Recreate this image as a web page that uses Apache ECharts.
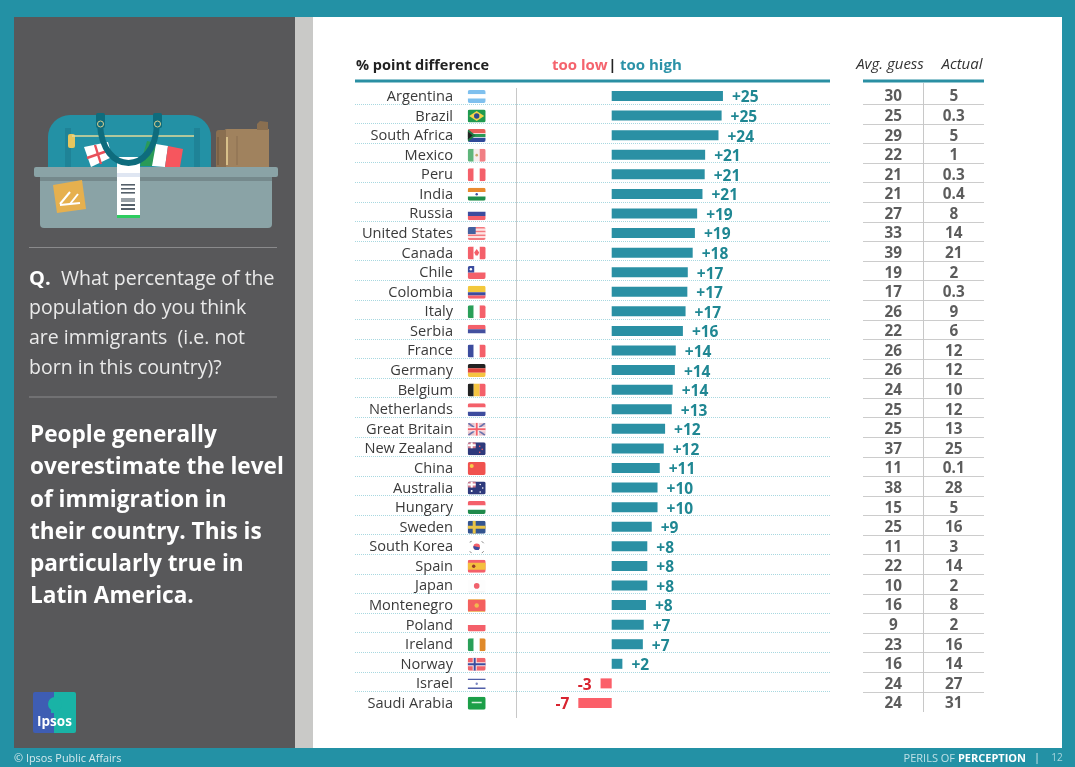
<!DOCTYPE html>
<html><head><meta charset="utf-8">
<style>html,body{margin:0;padding:0;background:#2391a5}#c{width:1075px;height:767px}</style>
<script src="https://cdn.jsdelivr.net/npm/echarts@6/dist/echarts.min.js"></script>
</head><body><div id="c"></div>
<script>
const countries = ['Argentina','Brazil','South Africa','Mexico','Peru','India','Russia','United States','Canada','Chile','Colombia','Italy','Serbia','France','Germany','Belgium','Netherlands','Great Britain','New Zealand','China','Australia','Hungary','Sweden','South Korea','Spain','Japan','Montenegro','Poland','Ireland','Norway','Israel','Saudi Arabia'];
const barLengths = [25,24.7,24,21,20.9,20.4,19.2,18.7,18.2,17.1,17,16.6,16,14.4,14.2,13.7,13.5,12,11.7,10.8,10.3,10.3,9,8,8,8,7.7,7.2,7,2.4,-2.5,-7.5];
const diffLabels = ['+25','+25','+24','+21','+21','+21','+19','+19','+18','+17','+17','+17','+16','+14','+14','+14','+13','+12','+12','+11','+10','+10','+9','+8','+8','+8','+8','+7','+7','+2','-3','-7'];
const avgGuess = [30,25,29,22,21,21,27,33,39,19,17,26,22,26,26,24,25,25,37,11,38,15,25,11,22,10,16,9,23,16,24,24];
const actual = ['5','0.3','5','1','0.3','0.4','8','14','21','2','0.3','9','6','12','12','10','12','13','25','0.1','28','5','16','3','14','2','8','2','16','14','27','31'];
const tableHeaders = ['Avg. guess','Actual'];

const FONT = '"Open Sans", sans-serif';
const TEAL = '#2391a5', BAR = '#2a90a4', RED = '#fb5f69', DARKTEAL = '#1f8793', DARKRED = '#d8232f';
const W = 18, H = 13;
const R='#f4606a', B='#3c4c9e', G='#2a9f58', K='#222222', O='#e98a2e', WH='#ffffff';
function hs(c){return c.map((col,i)=>['r',0,i*H/c.length,W,H/c.length,col]);}
function vs(c){return c.map((col,i)=>['r',i*W/c.length,0,W/c.length,H,col]);}
const FLAGS = {
 'Argentina':[...hs(['#7fc0ee',WH,'#7fc0ee'])],
 'Brazil':[['r',0,0,W,H,'#1f9a4f'],['p',[[9,1.5],[16.5,6.5],[9,11.5],[1.5,6.5]],'#f3d24a'],['c',9,6.5,2.7,'#2f4a8e']],
 'South Africa':[...hs(['#e8605a',WH,'#2f4a9a']),['r',0,5,W,3,'#2a9a55'],['p',[[0,0],[8,6.5],[0,13]],'#1f7a45'],['p',[[0,2.5],[5,6.5],[0,10.5]],'#222']],
 'Mexico':[...vs(['#5fb57a','#f6eeee','#f17f84']),['c',9,6.5,1.3,'#c8a86a']],
 'Peru':vs([R,WH,R]),
 'India':[...hs([O,WH,'#1f8f4a']),['c',9,6.5,1.2,'#3c4c9e']],
 'Russia':hs([WH,B,R]),
 'United States':[...hs(['#f47a80','#fde3e3','#f47a80','#fde3e3','#f47a80','#fde3e3','#f47a80']),['r',0,0,8,7,'#44619f']],
 'Canada':[...vs([R,WH,R]),['p',[[9,2.5],[11.5,6],[10,9],[8,9],[6.5,6]],R]],
 'Chile':[['r',0,0,W,6.5,WH],['r',0,6.5,W,6.5,R],['r',0,0,6.5,6.5,'#3c4c9e'],['c',3.2,3.2,1.2,WH]],
 'Colombia':[['r',0,0,W,6.5,'#f3c83c'],['r',0,6.5,W,3.2,'#3c4c9e'],['r',0,9.7,W,3.3,R]],
 'Italy':vs([G,WH,R]),
 'Serbia':hs([R,'#44509f',WH]),
 'France':vs(['#3c4c9e',WH,R]),
 'Germany':hs([K,'#e0473f','#f5c542']),
 'Belgium':vs([K,'#f5c542',R]),
 'Netherlands':hs([R,WH,B]),
 'Great Britain':[['r',0,0,W,H,'#e9c4cc'],['l',0,0,W,H,'#6a73ad',1.6],['l',W,0,0,H,'#6a73ad',1.6],['r',7,0,4,H,WH],['r',0,4.5,W,4,WH],['r',8,0,2,H,R],['r',0,5.5,W,2,R]],
 'New Zealand':[['r',0,0,W,H,'#2e3a7c'],['r',0,0,8,6,'#cf7b8d'],['r',3,0,2,6,WH],['r',0,2,8,2,WH],['c',12,4,.8,R],['c',14.5,7,.8,R],['c',12,10,.8,R]],
 'China':[['r',0,0,W,H,'#f0524f'],['c',4,4,2,'#f7cc4a']],
 'Australia':[['r',0,0,W,H,'#2e3a7c'],['r',0,0,8,6,'#cf7b8d'],['r',3,0,2,6,WH],['r',0,2,8,2,WH],['c',4,9.5,1,WH],['c',12.5,3,.8,WH],['c',15,6.5,.8,WH],['c',12.5,10.5,.8,WH]],
 'Hungary':hs([R,WH,'#1f8a4c']),
 'Sweden':[['r',0,0,W,H,'#33548f'],['r',5,0,3,H,'#e9c347'],['r',0,5,W,3,'#e9c347']],
 'South Korea':[['r',0,0,W,H,WH],['c',9,6.5,3.3,R],['s',9,6.5,3.3,'#3c4c9e'],['l',2,2,4,1,'#777',.9],['l',14,1,16,3,'#777',.9],['l',2,11,4,13,'#777',.9],['l',14,13,16,11,'#777',.9]],
 'Spain':[['r',0,0,W,H,R],['r',0,3,W,7,'#f4bf3e'],['c',6,6.5,1.7,'#933a2a']],
 'Japan':[['r',0,0,W,H,'#fdfdfd'],['r',0,12.4,W,.6,'#e5e5e5'],['c',9,6.5,2.8,'#f0616c']],
 'Montenegro':[['r',0,0,W,H,'#f4605f'],['r',0,0,W,1,'#f0bb72'],['r',0,12,W,1,'#f0bb72'],['c',9,6.5,2.2,'#f2b84f']],
 'Poland':[['r',0,0,W,6.5,WH],['r',0,6.5,W,6.5,R]],
 'Ireland':vs([G,WH,'#e08a2a']),
 'Norway':[['r',0,0,W,H,'#f0646c'],['r',5,0,4,H,'#fbe9ea'],['r',0,4.5,W,4,'#fbe9ea'],['r',6,0,2,H,'#3c4c9e'],['r',0,5.5,W,2,'#3c4c9e']],
 'Israel':[['r',0,0,W,H,WH],['r',0,1.4,W,1.4,'#505ea8'],['r',0,10.2,W,1.4,'#505ea8'],['c',9,6.5,1.2,'#7a86c0']],
 'Saudi Arabia':[['r',0,0,W,H,'#1c9f48'],['r',4,5,10,1.5,'#d7f0de']]
};
function flagChild(s){
 switch(s[0]){
  case 'r':return {type:'rect',shape:{x:s[1],y:s[2],width:s[3],height:s[4]},style:{fill:s[5]}};
  case 'c':return {type:'circle',shape:{cx:s[1],cy:s[2],r:s[3]},style:{fill:s[4]}};
  case 's':return {type:'sector',shape:{cx:s[1],cy:s[2],r:s[3],r0:0,startAngle:0.2,endAngle:Math.PI+0.2},style:{fill:s[4]}};
  case 'p':return {type:'polygon',shape:{points:s[1]},style:{fill:s[2]}};
  case 'l':return {type:'line',shape:{x1:s[1],y1:s[2],x2:s[3],y2:s[4]},style:{stroke:s[5],lineWidth:s[6]}};
 }
}
const rowH = 19.58, rowsH = rowH * countries.length;
function catAxis(grid, extra){
 return Object.assign({type:'category',gridIndex:grid,data:countries,inverse:true,axisLine:{show:false},axisTick:{show:false},axisLabel:{show:false},splitLine:{show:false}},extra||{});
}
function hiddenX(grid,min,max){return {type:'value',gridIndex:grid,min,max,show:false,splitLine:{show:false}};}
function T(text,x,y,size,color,extra){
 return {type:'text',z:1,style:Object.assign({text,x,y,fontSize:size,fill:color,fontFamily:FONT,textVerticalAlign:'middle',verticalAlign:'middle'},extra||{})};
}
function rect(x,y,w,h,fill,r,z){return {type:'rect',z:z||0,shape:{x,y,width:w,height:h,r:r||0},style:{fill}};}
function poly(pts,fill){return {type:'polygon',z:1,shape:{points:pts},style:{fill}};}
function ln(x1,y1,x2,y2,stroke,lw){return {type:'line',z:1,shape:{x1,y1,x2,y2},style:{stroke,lineWidth:lw}};}

const decor = [
 rect(313,17,749,731,'#ffffff'),
 rect(14,17,281,731,'#58585a'),
 rect(295,17,18,731,'#c9c9c7'),
 // bag illustration
 rect(48,115,163,52,'#2391a5',[22,22,0,0]),
 rect(65,128,6,39,'#1f8397'), rect(194,128,6,39,'#1f8397'),
 ln(72,136,194,136,'#e2da9a',1.6),
 rect(68,134,7,14,'#e6c65e',2),
 poly([[84,147],[108,142],[112,157],[91,167]],'#ffffff'),
 ln(87,158,110,150,'#e8505a',2.4), ln(95,145,101,164,'#e8505a',2.4),
 poly([[147,141],[156,143],[153,166],[140,166]],'#2a9a58'),
 poly([[156,144],[168,146],[165,167],[152,166]],'#ffffff'),
 poly([[168,146],[183,149],[180,167],[165,167]],'#f6565e'),
 {type:'bezierCurve',z:1,shape:{x1:100,y1:124,x2:157,y2:124,cpx1:102,cpy1:176,cpx2:155,cpy2:176},style:{stroke:'#0e6c7d',lineWidth:6,fill:'none'}},
 rect(96,113,9,15,'#0e6c7d',2), rect(153,113,9,15,'#0e6c7d',2),
 {type:'circle',z:1,shape:{cx:100.5,cy:124,r:3},style:{stroke:'#d8cf8e',lineWidth:1,fill:'none'}},
 {type:'circle',z:1,shape:{cx:157.5,cy:124,r:3},style:{stroke:'#d8cf8e',lineWidth:1,fill:'none'}},
 rect(224,129,45,38,'#a0825e',[3,0,0,0]), rect(216,130,10,37,'#8a6f50',[3,0,0,0]),
 poly([[257,124],[260,121],[268,122],[268,130],[257,130]],'#8a6f50'),
 ln(237,136,237,165,'#8a6f50',1),
 ln(227,137,227,165,'#d8c08a',2), ln(218,137,218,165,'#6b553c',1),
 rect(34,167,244,10,'#8aa3a6',2),
 rect(40,177,232,51,'#8aa3a6',[0,0,4,4]),
 rect(40,177,232,4,'#75898c'),
 poly([[53,185],[82,180],[86,209],[57,213]],'#e6b04e'),
 ln(60,204,70,192,'#fff',2), ln(70,204,78,194,'#fff',2), ln(60,205,80,203,'#fff',2),
 rect(117,157,23,59,'#ffffff'),
 rect(117,173,23,4,'#dfe6f2'),
 rect(121,184,14,1.6,'#55606a'),rect(121,188,14,1.6,'#55606a'),rect(121,192,14,1.6,'#55606a'),
 rect(121,198,14,4,'#9aa2a8'),rect(121,204,14,2,'#55606a'),rect(121,208,14,2,'#55606a'),
 rect(117,215,23,3,'#2ecc60'),
 ln(29,247.5,277,247.5,'#8a8a8c',1), ln(29,397,277,397,'#8a8a8c',1),
 // left texts
 T('Q.',29,279,20,'#ffffff',{fontWeight:'bold'}),
 T('What percentage of the',61,279,19.5,'#eaeaea'),
 T('population do you think',29,308,19.5,'#eaeaea'),
 T('are immigrants  (i.e. not',29,338,19.5,'#eaeaea'),
 T('born in this country)?',29,368,19.5,'#eaeaea'),
 T('People generally',30,436,22.6,'#ffffff',{fontWeight:'bold'}),
 T('overestimate the level',30,468,22.6,'#ffffff',{fontWeight:'bold'}),
 T('of immigration in',30,501,22.6,'#ffffff',{fontWeight:'bold'}),
 T('their country. This is',30,533,22.6,'#ffffff',{fontWeight:'bold'}),
 T('particularly true in',30,565,22.6,'#ffffff',{fontWeight:'bold'}),
 T('Latin America.',30,597,22.6,'#ffffff',{fontWeight:'bold'}),
 // logo
 rect(33,692,22,41,'#3e5db3',[2,0,0,2]),
 rect(54,692,22,41,'#19b3a6',[0,2,2,0]),
 {type:'circle',z:1,shape:{cx:55,cy:704,r:7},style:{fill:'#19b3a6'}},
 rect(51,708,8,5,'#19b3a6'),
 T('Ipsos',54.5,722,13.5,'#ffffff',{fontWeight:'bold',align:'center',textAlign:'center'}),
 // footer
 T('© Ipsos Public Affairs',14,759,10.9,'#d5e9ed'),
 {type:'text',z:1,style:{x:1026,y:758.5,text:'{a|PERILS OF }{b|PERCEPTION}',align:'right',textAlign:'right',verticalAlign:'middle',textVerticalAlign:'middle',fontFamily:FONT,
   rich:{a:{fontSize:11,fill:'#bfe0e6',color:'#bfe0e6',fontFamily:FONT},b:{fontSize:11,fontWeight:'bold',fill:'#ffffff',color:'#ffffff',fontFamily:FONT}}}},
 T('|',1037,758,11,'#d5e9ed',{align:'center',textAlign:'center'}),
 T('12',1057,758.5,10,'#a9d5dd',{align:'center',textAlign:'center'}),
 // headers
 T('% point difference',356,66,14.5,'#222222',{fontWeight:'bold'}),
 T('too low',552,66,15,'#f4636d',{fontWeight:'bold'}),
 T('|',612.5,66,15,'#222222',{fontWeight:'bold',align:'center',textAlign:'center'}),
 T('too high',620,66,15,'#2b92a8',{fontWeight:'bold'}),
 T(tableHeaders[0],890,65,15,'#333333',{fontStyle:'italic',align:'center',textAlign:'center'}),
 T(tableHeaders[1],962,65,15,'#333333',{fontStyle:'italic',align:'center',textAlign:'center'}),
 // rules
 rect(355,79.5,475,3,'#2a8fa3',0,1),
 rect(863,79.5,121,3,'#2a8fa3',0,1),
 ln(516.5,88,516.5,718,'#c8c8c8',1),
 ln(923.5,83,923.5,712,'#c8c8c8',1)
];

const tableLabel = {show:true,position:'inside',formatter:p=>String(p.value[2]),fontSize:15.3,fontWeight:'bold',color:'#333333',fontFamily:FONT};
const option = {
 backgroundColor:TEAL, animation:false,
 textStyle:{fontFamily:FONT},
 graphic:{elements:decor},
 grid:[
  {left:355,width:475,top:86.2,height:rowsH},
  {left:453,width:47,top:87,height:rowsH},
  {left:355,width:475,top:84.4,height:rowsH},
  {left:863,width:121,top:84.8,height:rowsH},
  {left:863,width:121,top:87.2,height:rowsH}
 ],
 xAxis:[
  hiddenX(0,-57.69,49.06),
  hiddenX(1,0,47),
  hiddenX(2,0,1),
  hiddenX(3,0,1),
  {type:'category',gridIndex:4,data:tableHeaders,show:false}
 ],
 yAxis:[
  catAxis(0),
  catAxis(1,{axisLabel:{show:true,interval:0,margin:0,fontSize:14.6,color:'#3a3a3a',fontFamily:FONT}}),
  catAxis(2,{splitLine:{show:true,interval:0,showMinLine:false,showMaxLine:false,lineStyle:{color:'#a8d8e0',type:'dotted',width:1}}}),
  catAxis(3,{splitLine:{show:true,interval:0,showMinLine:false,showMaxLine:false,lineStyle:{color:'#cccccc',type:'solid',width:1}}}),
  catAxis(4)
 ],
 series:[
  {type:'bar',xAxisIndex:0,yAxisIndex:0,barWidth:10,silent:true,
   data:barLengths.map((v,i)=>({value:v,itemStyle:{color:v<0?RED:BAR},
     label:{show:true,position:v<0?'left':'right',distance:9,formatter:diffLabels[i],color:v<0?DARKRED:DARKTEAL,fontSize:15.5,fontWeight:'bold',fontFamily:FONT,offset:[0,2]}}))},
  {type:'custom',xAxisIndex:1,yAxisIndex:1,silent:true,clip:false,
   data:countries.map((c,i)=>[0,i]),
   encode:{x:0,y:1},
   renderItem(params,api){
     const p=api.coord([api.value(0),api.value(1)]);
     const name=countries[params.dataIndex];
     return {type:'group',x:p[0]+14.7,y:p[1]-6.9,
       clipPath:{type:'rect',shape:{x:0,y:0,width:W,height:H,r:2}},
       children:FLAGS[name].map(flagChild)};
   }},
  {type:'scatter',xAxisIndex:4,yAxisIndex:4,silent:true,symbolSize:1,itemStyle:{color:'transparent'},
   data:avgGuess.map((v,i)=>[0,i,v]),label:tableLabel},
  {type:'scatter',xAxisIndex:4,yAxisIndex:4,silent:true,symbolSize:1,itemStyle:{color:'transparent'},
   data:actual.map((v,i)=>[1,i,v]),label:tableLabel}
 ]
};
echarts.init(document.getElementById('c'),null,{renderer:'canvas'}).setOption(option);
</script></body></html>
